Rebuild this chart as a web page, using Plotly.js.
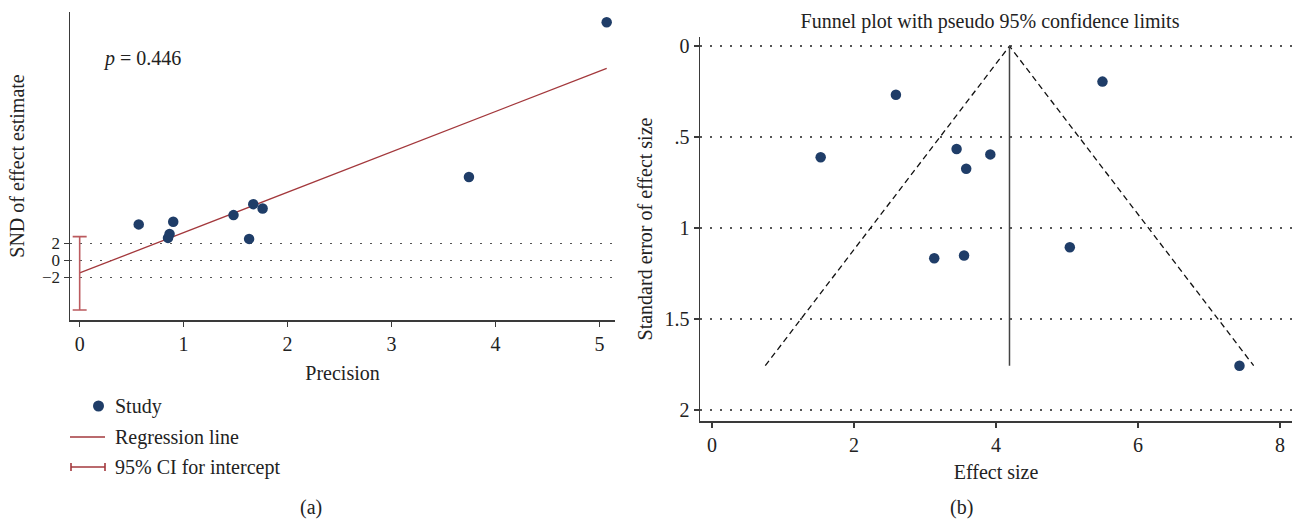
<!DOCTYPE html>
<html>
<head>
<meta charset="utf-8">
<script src="https://cdn.plot.ly/plotly-3.0.1.min.js"></script>
<style>html,body{margin:0;padding:0;background:#fff;}#chart{width:1297px;height:519px;}</style>
</head>
<body>
<div id="chart"></div>
<script>
// ---- Panel (a): Galbraith / Egger regression ----
const studyPrecision = [5.07, 3.745, 0.568, 0.90, 0.865, 0.85, 1.48, 1.67, 1.76, 1.63];
const studySND       = [27.9, 9.77, 4.22, 4.53, 3.10, 2.64, 5.31, 6.59, 6.09, 2.52];
const regPrecision   = [0, 5.07];
const regSND         = [-1.47, 22.5];
const ciIntercept    = [-1.51];
const ciLow          = [-5.81];
const ciHigh         = [2.79];
const pValueText     = "<i>p</i> = 0.446";
const precTicks      = [0, 1, 2, 3, 4, 5];
const sndTicks       = [-2, 0, 2];
const sndTickText    = ["\u22122", "0", "2"];

// ---- Panel (b): funnel plot ----
const effectSize     = [1.53, 2.59, 5.50, 3.445, 3.92, 3.58, 5.04, 3.55, 3.13, 7.43];
const stdError       = [0.611, 0.267, 0.195, 0.565, 0.595, 0.674, 1.105, 1.151, 1.166, 1.756];
const funnelEffect   = [0.75, 4.19, 7.63];
const funnelSE       = [1.756, 0, 1.756];
const pooledEffect   = [4.19, 4.19];
const pooledSE       = [0, 1.756];
const effTicks       = [0, 2, 4, 6, 8];
const seTicks        = [0, 0.5, 1, 1.5, 2];
const seTickText     = ["0", ".5", "1", "1.5", "2"];

const FONT = "'Liberation Serif', 'Times New Roman', serif";
const NAVY = "#1f3d68";
const RED = "#a3383c";
const CIRED = "#bb5a5e";
const AX = "#3a3a3a";
const W = 1297, H = 519;
const px = v => v / W;
const py = v => 1 - v / H;
const FS = 20;

const traces = [
  {x: regPrecision, y: regSND, type: "scatter", mode: "lines",
   line: {color: RED, width: 1.3}, xaxis: "x", yaxis: "y", showlegend: false, hoverinfo: "skip"},
  {x: [0], y: ciIntercept, type: "scatter", mode: "markers",
   marker: {opacity: 0, size: 2, color: CIRED},
   error_y: {type: "data", symmetric: false,
     array: [ciHigh[0] - ciIntercept[0]], arrayminus: [ciIntercept[0] - ciLow[0]],
     color: CIRED, thickness: 1.6, width: 7},
   xaxis: "x", yaxis: "y", showlegend: false, hoverinfo: "skip"},
  {x: studyPrecision, y: studySND, type: "scatter", mode: "markers",
   marker: {color: NAVY, size: 10.5}, xaxis: "x", yaxis: "y", showlegend: false},

  {x: funnelEffect, y: funnelSE, type: "scatter", mode: "lines",
   line: {color: "#111", width: 1.3, dash: "6px,4px"}, xaxis: "x2", yaxis: "y2", showlegend: false, hoverinfo: "skip"},
  {x: pooledEffect, y: pooledSE, type: "scatter", mode: "lines",
   line: {color: "#444", width: 1.5}, xaxis: "x2", yaxis: "y2", showlegend: false, hoverinfo: "skip"},
  {x: effectSize, y: stdError, type: "scatter", mode: "markers",
   marker: {color: NAVY, size: 10.5}, xaxis: "x2", yaxis: "y2", showlegend: false}
];

const axBase = {
  showline: true, linecolor: AX, linewidth: 1.5, ticks: "outside", ticklen: 5,
  tickcolor: AX, tickwidth: 1.3, zeroline: false, mirror: false,
  tickfont: {family: FONT, size: FS, color: "#222"}
};
const titleFont = {family: FONT, size: FS, color: "#222"};
const GRIDDASH = "1.6px,8.4px";

const layout = {
  width: W, height: H,
  margin: {l: 0, r: 0, t: 0, b: 0},
  paper_bgcolor: "#fff", plot_bgcolor: "#fff",
  font: {family: FONT, size: FS, color: "#222"},
  showlegend: false,
  title: {text: "Funnel plot with pseudo 95% confidence limits", font: titleFont,
          x: px(990), xanchor: "center", y: py(21), yanchor: "middle"},
  xaxis: Object.assign({}, axBase, {
    domain: [px(70), px(615)], range: [-0.093, 5.15], tickvals: precTicks,
    showgrid: false, anchor: "y",
    title: {text: "Precision", font: titleFont, standoff: 12}
  }),
  yaxis: Object.assign({}, axBase, {
    domain: [py(320), py(12)], range: [-6.98, 29.1], tickvals: sndTicks, ticktext: sndTickText,
    tickfont: {family: FONT, size: 17, color: "#222"},
    showgrid: true, gridcolor: "#555", griddash: GRIDDASH, gridwidth: 1.6, anchor: "x",
    title: {text: "SND of effect estimate", font: titleFont, standoff: 12}
  }),
  xaxis2: Object.assign({}, axBase, {
    domain: [px(700), px(1292)], range: [-0.17, 8.17], tickvals: effTicks,
    showgrid: false, anchor: "y2",
    title: {text: "Effect size", font: titleFont, standoff: 10}
  }),
  yaxis2: Object.assign({}, axBase, {
    domain: [py(421), py(37)], range: [2.06, -0.05], tickvals: seTicks, ticktext: seTickText,
    showgrid: true, gridcolor: "#555", griddash: GRIDDASH, gridwidth: 1.6, anchor: "x2",
    title: {text: "Standard error of effect size", font: titleFont, standoff: 6}
  }),
  annotations: [
    {text: pValueText, xref: "paper", yref: "paper", x: px(101), y: py(58),
     xanchor: "left", yanchor: "middle", showarrow: false, font: titleFont},
    {text: "Study", xref: "paper", yref: "paper", x: px(113), y: py(406),
     xanchor: "left", yanchor: "middle", showarrow: false, font: titleFont},
    {text: "Regression line", xref: "paper", yref: "paper", x: px(113), y: py(437),
     xanchor: "left", yanchor: "middle", showarrow: false, font: titleFont},
    {text: "95% CI for intercept", xref: "paper", yref: "paper", x: px(113), y: py(467),
     xanchor: "left", yanchor: "middle", showarrow: false, font: titleFont},
    {text: "(a)", xref: "paper", yref: "paper", x: px(311), y: py(507),
     xanchor: "center", yanchor: "middle", showarrow: false, font: titleFont},
    {text: "(b)", xref: "paper", yref: "paper", x: px(961), y: py(507),
     xanchor: "center", yanchor: "middle", showarrow: false, font: titleFont}
  ],
  shapes: [
    // legend glyphs
    {type: "circle", xref: "paper", yref: "paper", x0: px(93), x1: px(104), y0: py(411.5), y1: py(400.5),
     fillcolor: NAVY, line: {width: 0}},
    {type: "line", xref: "paper", yref: "paper", x0: px(70), x1: px(105), y0: py(437), y1: py(437),
     line: {color: RED, width: 1.3}},
    {type: "line", xref: "paper", yref: "paper", x0: px(71), x1: px(105), y0: py(467), y1: py(467),
     line: {color: RED, width: 1.6}},
    {type: "line", xref: "paper", yref: "paper", x0: px(71), x1: px(71), y0: py(463), y1: py(471),
     line: {color: RED, width: 1.6}},
    {type: "line", xref: "paper", yref: "paper", x0: px(105), x1: px(105), y0: py(463), y1: py(471),
     line: {color: RED, width: 1.6}}
  ]
};

Plotly.newPlot("chart", traces, layout, {staticPlot: true, displayModeBar: false});
</script>
</body>
</html>
